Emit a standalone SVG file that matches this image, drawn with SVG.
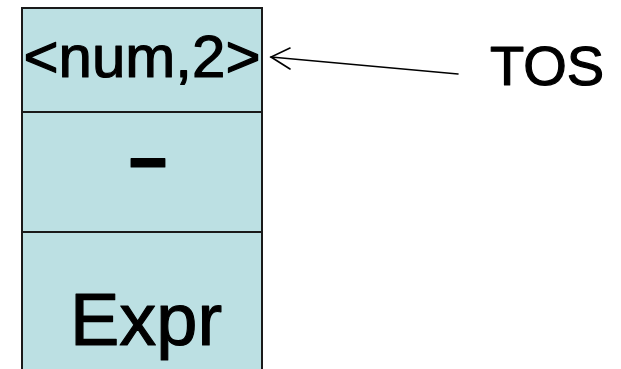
<svg xmlns="http://www.w3.org/2000/svg" width="621" height="369" viewBox="0 0 621 369">
<style>
.cell{fill:#BCE0E3;stroke:#1a1a1a;stroke-width:2}
.t{font-family:"Liberation Sans",Arial,sans-serif;fill:#000;stroke:#000;stroke-width:1.2;stroke-linejoin:round;text-anchor:middle}
.conn{fill:none;stroke:#000;stroke-width:1.6;stroke-linecap:round}
</style>
<rect width="621" height="369" fill="#fff"/>
<g id="cell-top">
<rect class="cell" x="22" y="8" width="240" height="104"/>
<text class="t" x="142" y="77" font-size="60">&lt;num,2&gt;</text>
</g>
<g id="cell-minus">
<rect class="cell" x="22" y="112" width="240" height="120"/>
<text class="t" transform="translate(148,191) scale(1.3,1)" x="0" y="0" font-size="105" stroke-width="2.5">-</text>
</g>
<g id="cell-expr">
<rect class="cell" x="22" y="232" width="240" height="150"/>
<text class="t" x="146" y="345" font-size="74">Expr</text>
</g>
<g id="tos">
<text class="t" x="547" y="85" font-size="56">TOS</text>
</g>
<g id="connectors">
<path class="conn" d="M458,74 L271,57"/>
<path class="conn" d="M290,48 L271,57 L290,69"/>
</g>
</svg>
